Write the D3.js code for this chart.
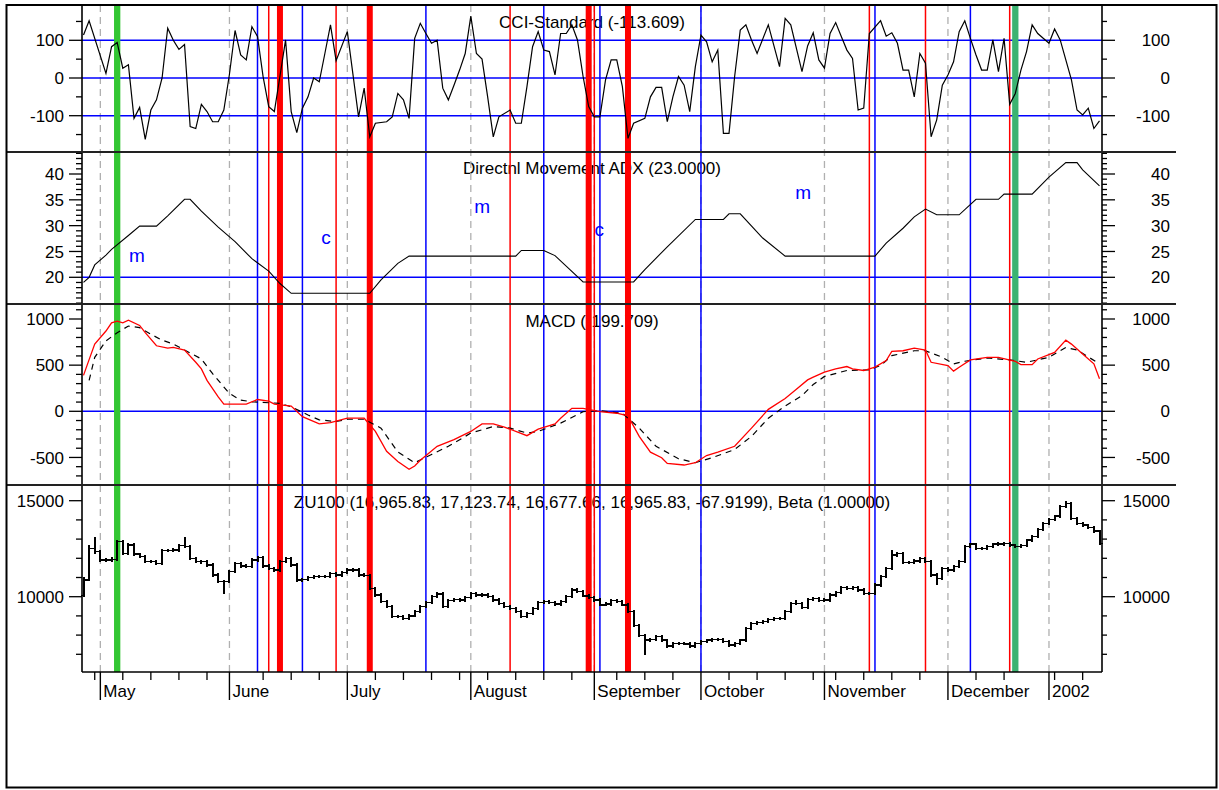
<!DOCTYPE html>
<html><head><meta charset="utf-8">
<script src="https://cdn.jsdelivr.net/npm/d3@7"></script>
<style>
body{margin:0;background:#fff}
svg{display:block}
text{font-family:"Liberation Sans",Arial,sans-serif;fill:#000}
</style>
</head><body>
<svg id="c" width="1219" height="790"></svg>
<script>
// ---------------- DATA ----------------
// x-axis: trading-day index 0..181 (26 Apr 2001 .. mid Jan 2002)
const monthLabels = ["May","June","July","August","September","October","November","December","2002"];
const monthIdx = [3,26,47,69,91,110,132,154,172];
const weekIdx = [2,7,12,17,22,32,37,42,52,57,62,67,72,77,82,87,95,100,105,115,120,125,130,134,139,144,149,159,164,173,178];

// CCI keypoints [day index, value]
const cciPts = [[0,114],[1,152],[4,12],[5,83],[6,94],[7,26],[8,35],[9,-107],[10,-78],[11,-163],[12,-85],[13,-58],[14,0],[15,132],[16,100],[17,76],[18,89],[19,-129],[20,-134],[21,-70],[22,-89],[23,-116],[24,-116],[25,-85],[26,10],[27,126],[28,61],[29,48],[30,136],[31,110],[32,3],[33,-76],[34,-89],[35,5],[36,101],[37,-89],[38,-145],[39,-80],[40,-50],[41,0],[42,-10],[43,65],[44,141],[45,46],[47,123],[49,-103],[50,-27],[51,-156],[52,-120],[54,-116],[55,-103],[56,-41],[57,-58],[58,-107],[59,105],[60,145],[61,118],[62,92],[63,100],[64,-27],[65,-58],[66,-19],[67,21],[68,65],[69,164],[70,65],[71,50],[72,-50],[73,-156],[74,-103],[76,-85],[77,-120],[78,-120],[79,-23],[80,83],[81,123],[82,74],[83,70],[84,8],[85,118],[86,118],[87,141],[88,101],[89,4],[90,-76],[91,-103],[92,-103],[93,-5],[94,48],[95,48],[96,-23],[97,-160],[98,-120],[100,-107],[101,-50],[102,-25],[103,-25],[104,-116],[105,-50],[106,4],[107,-19],[108,-89],[109,30],[110,114],[111,96],[112,43],[113,74],[114,-147],[115,-147],[116,4],[117,127],[118,141],[119,101],[120,65],[122,141],[124,30],[125,158],[126,141],[128,17],[129,85],[130,120],[131,48],[132,26],[133,118],[134,147],[135,110],[136,74],[137,52],[138,-85],[139,-80],[140,118],[142,152],[143,111],[144,120],[145,92],[146,21],[147,21],[148,-50],[149,65],[150,39],[151,-156],[152,-111],[153,-19],[154,8],[155,43],[156,123],[157,152],[158,105],[159,61],[160,21],[161,21],[162,101],[163,17],[164,105],[165,-70],[166,-41],[167,21],[168,70],[169,141],[170,118],[172,92],[173,130],[174,101],[175,48],[176,-5],[177,-85],[178,-98],[179,-80],[180,-134],[181,-114]];

// ADX keypoints
const adxPts = [[0,19],[1,20],[2,22.4],[4,24.3],[5,25.4],[8,28.1],[10,29.9],[13,29.9],[15,31.9],[18,35.1],[19,35.1],[21,32.8],[24,29.7],[27,26.9],[30,23.6],[33,21.2],[35,18.8],[37,16.9],[51,16.9],[53,19.5],[56,22.7],[58,24.1],[77,24.1],[78,25.2],[82,25.2],[84,24.2],[89,19.1],[98,19.1],[100,21.5],[104,25.9],[109,31.2],[114,31.2],[115,32.3],[117,32.3],[121,27.6],[125,24.1],[141,24.1],[143,26.6],[146,29.5],[148,31.7],[150,33.2],[152,32.1],[156,32.1],[159,35.1],[163,35.1],[164,36.1],[169,36.1],[172,39.4],[175,42.2],[177,42.2],[178,40.8],[181,37.7]];

// MACD line (red) and signal (dashed)
const macdPts = [[0,389],[1,560],[2,728],[4,870],[5,959],[6,977],[7,959],[8,988],[10,930],[11,852],[13,710],[15,685],[16,692],[18,664],[20,531],[21,460],[22,335],[24,156],[25,78],[29,78],[31,128],[33,110],[34,78],[37,57],[39,-58],[42,-136],[44,-122],[47,-75],[50,-75],[52,-218],[54,-433],[56,-545],[58,-628],[59,-593],[60,-530],[63,-379],[66,-307],[69,-218],[71,-136],[73,-136],[75,-171],[79,-264],[81,-193],[84,-136],[85,-75],[87,32],[89,32],[92,-4],[95,-21],[97,-50],[99,-272],[101,-443],[103,-503],[104,-564],[107,-582],[109,-557],[111,-479],[113,-443],[116,-379],[119,-182],[122,21],[125,139],[127,240],[129,340],[130,370],[132,424],[134,460],[136,485],[137,460],[139,442],[141,478],[143,549],[144,649],[146,656],[148,685],[150,664],[151,531],[154,496],[155,435],[156,478],[158,557],[161,585],[163,585],[166,542],[167,506],[169,506],[170,567],[173,638],[175,771],[176,728],[178,621],[180,514],[181,353]];
const signalPts = [[1,335],[2,585],[4,763],[6,852],[8,924],[10,906],[12,835],[14,771],[16,728],[18,664],[21,567],[23,407],[26,193],[28,121],[30,103],[35,86],[37,49],[40,-40],[42,-93],[45,-111],[47,-86],[50,-86],[53,-182],[56,-440],[59,-557],[62,-468],[65,-379],[69,-236],[73,-165],[76,-182],[79,-236],[81,-218],[85,-128],[89,-4],[92,6],[96,-21],[99,-182],[102,-379],[106,-514],[109,-557],[112,-503],[116,-414],[119,-272],[122,-75],[125,57],[128,170],[130,290],[132,378],[136,442],[140,450],[142,496],[144,603],[148,656],[150,656],[153,585],[155,514],[157,542],[161,578],[165,557],[168,531],[172,585],[175,692],[177,664],[181,514]];

// ZU100 daily bars
const pOpen = [10050,10870,12520,12340,11910,11910,11940,12870,12260,12690,
12220,12080,11820,11820,11740,12400,12400,12430,12660,12600,
12000,11820,11820,11650,11130,10780,10780,11300,11740,11600,
11560,11910,12050,11600,11480,11390,11820,12000,11650,10870,
10900,11010,11040,11040,11040,11210,11130,11250,11390,11390,
11130,11100,10430,10090,9740,9480,8960,8960,8870,9000,
9220,9500,9690,10000,10140,9480,9800,9860,9830,9960,
10170,10090,10090,10000,9830,9650,9480,9390,9220,8960,
9130,9390,9690,9740,9690,9620,9740,10000,10350,10260,
10040,9970,9830,9570,9620,9790,9740,9570,9220,8520,
8000,7740,7780,7920,7740,7430,7570,7570,7540,7430,
7570,7660,7740,7780,7760,7660,7480,7570,7740,8350,
8610,8650,8700,8820,8870,8870,9220,9650,9650,9450,
9860,9910,9790,9830,10090,10210,10490,10430,10490,10350,
10170,10170,10610,11040,11480,12170,12260,11800,11770,11860,
12000,11820,11130,10960,11480,11390,11560,11820,12600,12740,
12520,12520,12600,12740,12740,12780,12690,12600,12660,12950,
13130,13510,13820,14030,14200,14690,14870,14080,13820,13730,
13600,13420];
const pHigh = [11040,12700,13090,12440,12010,12050,12950,12960,12780,12790,
12300,12160,11920,11900,12480,12500,12520,12740,13090,12680,
12080,11910,11900,11730,11210,10880,11380,11820,11830,11680,
11990,12130,12140,11680,11560,11900,12090,12080,11730,10990,
11090,11120,11130,11120,11290,11300,11330,11470,11480,11470,
11210,11180,10520,10170,9830,9560,9050,9040,9080,9300,
9580,9770,10090,10220,10220,9880,9940,9940,10040,10250,
10250,10180,10170,10080,9910,9730,9560,9470,9300,9210,
9470,9770,9830,9820,9770,9820,10080,10430,10440,10340,
10120,10050,9910,9700,9870,9870,9820,9650,9300,8600,
8080,7860,8000,8000,7820,7650,7650,7650,7620,7650,
7740,7820,7860,7860,7840,7740,7650,7820,8430,8690,
8730,8780,8900,8950,8950,9300,9730,9820,9730,9940,
9990,9990,9910,10170,10290,10570,10570,10570,10570,10430,
10250,10690,11120,11560,12430,12340,12340,11880,11940,12080,
12080,11900,11210,11560,11560,11640,11900,12680,12820,12820,
12600,12680,12820,12830,12860,12860,12770,12740,13030,13210,
13590,13900,14110,14280,14770,15000,14950,14160,13900,13810,
13680,13500];
const pLow = [10000,10800,12250,11820,11820,11830,11860,12180,12180,12130,
12000,11740,11740,11660,11660,12320,12330,12350,12520,11920,
11740,11720,11560,11050,10690,10120,10700,11220,11520,11480,
11480,11830,11520,11400,11310,11310,11740,11570,10790,10790,
10820,10930,10960,10950,10960,11050,11050,11170,11300,11050,
11020,10350,10000,9650,9400,8880,8870,8780,8790,8920,
9140,9420,9610,9920,9400,9400,9720,9750,9750,9880,
10010,10000,9920,9750,9570,9400,9310,9140,8880,8880,
9050,9310,9610,9610,9540,9540,9660,9920,10180,9960,
9890,9750,9490,9490,9540,9660,9490,9140,8440,7920,
6960,7660,7700,7660,7350,7350,7490,7460,7350,7350,
7490,7580,7660,7680,7580,7400,7400,7490,7660,8270,
8530,8570,8620,8740,8790,8790,9140,9570,9370,9370,
9780,9710,9710,9750,10010,10130,10350,10350,10270,10090,
10090,10090,10530,10960,11400,12090,11720,11690,11690,11780,
11740,11050,10600,10880,11310,11310,11480,11740,12520,12440,
12440,12440,12520,12660,12660,12610,12520,12520,12580,12870,
13050,13430,13740,13950,14120,14610,14000,13740,13650,13520,
13340,12700];
const pClose = [10870,12520,12340,11910,11910,11940,12870,12260,12690,12220,
12080,11820,11820,11740,12400,12400,12430,12660,12600,12000,
11820,11820,11650,11130,10780,10780,11300,11740,11600,11560,
11910,12050,11600,11480,11390,11820,12000,11650,10870,10900,
11010,11040,11040,11040,11210,11130,11250,11390,11390,11130,
11100,10430,10090,9740,9480,8960,8960,8870,9000,9220,
9500,9690,10000,10140,9480,9800,9860,9830,9960,10170,
10090,10090,10000,9830,9650,9480,9390,9220,8960,9130,
9390,9690,9740,9690,9620,9740,10000,10350,10260,10040,
9970,9830,9570,9620,9790,9740,9570,9220,8520,8000,
7740,7780,7920,7740,7430,7570,7570,7540,7430,7570,
7660,7740,7780,7760,7660,7480,7570,7740,8350,8610,
8650,8700,8820,8870,8870,9220,9650,9650,9450,9860,
9910,9790,9830,10090,10210,10490,10430,10490,10350,10170,
10170,10610,11040,11480,12170,12260,11800,11770,11860,12000,
11820,11130,10960,11480,11390,11560,11820,12600,12740,12520,
12520,12600,12740,12740,12780,12690,12600,12660,12950,13130,
13510,13820,14030,14200,14690,14870,14080,13820,13730,13600,
13420,12780];

// signal / marker lines (day index)
const blueLines = [31,39,61,82,92,110,141,158];
const redLines = [33,45,76,91,140,150,165];
const redThick = [35,51,90,97];
const greenLines = [[6,"#33c633"],[166,"#3cb371"]];

// annotations in ADX panel [text, day index, ADX value]
const annotations = [["m",9.5,23.0],["c",43.2,26.45],["m",71.0,32.5],["c",91.9,27.9],["m",128.2,35.1]];

const titles = ["CCI-Standard (-113.609)","Directnl Movement ADX (23.0000)","MACD (-199.709)","ZU100 (16,965.83, 17,123.74, 16,677.66, 16,965.83, -67.9199), Beta (1.00000)"];

// ---------------- LAYOUT ----------------
const svg = d3.select("#c");
svg.append("rect").attr("width",1219).attr("height",790).attr("fill","#fff");
const AXL = 82, AXR = 1102, TOP = 5, BOT = 672;
const x = d3.scaleLinear().domain([0,181]).range([83.5,1099.5]);

const panels = [
  {y:d3.scaleLinear().domain([-100,100]).range([115.7,40.3]), top:5, bot:152, ticks:d3.range(-150,151,50), major:[-100,0,100], refs:[-100,0,100], titleY:28},
  {y:d3.scaleLinear().domain([20,40]).range([277.3,174]), top:152, bot:304, ticks:d3.range(15,45,1), major:[20,25,30,35,40], refs:[20], titleY:174},
  {y:d3.scaleLinear().domain([0,1000]).range([411.3,319]), top:304, bot:485, ticks:d3.range(-700,1101,100), major:[-500,0,500,1000], refs:[0], titleY:327},
  {y:d3.scaleLinear().domain([10000,15000]).range([596.7,500.7]), top:485, bot:672, ticks:d3.range(7000,15001,1000), major:[10000,15000], refs:[], titleY:508}
];

// titles
panels.forEach((p,k)=>{
  svg.append("text").attr("x",(AXL+AXR)/2).attr("y",p.titleY).attr("text-anchor","middle")
    .attr("font-size",17).text(titles[k]);
});
// annotations
svg.append("g").selectAll("text").data(annotations).join("text")
  .attr("x",d=>x(d[1])).attr("y",d=>panels[1].y(d[2])).attr("text-anchor","middle")
  .attr("font-size",19).style("fill","#0000ff").text(d=>d[0]);

// dashed month grid
svg.append("g").selectAll("line").data(monthIdx).join("line")
  .attr("x1",d=>x(d)).attr("x2",d=>x(d)).attr("y1",TOP).attr("y2",BOT)
  .attr("stroke","#b0b0b0").attr("stroke-width",1.3).attr("stroke-dasharray","7,5");

// horizontal reference lines
panels.forEach(p=>{
  svg.append("g").selectAll("line").data(p.refs).join("line")
    .attr("x1",AXL).attr("x2",AXR).attr("y1",d=>p.y(d)).attr("y2",d=>p.y(d))
    .attr("stroke","#0000ff").attr("stroke-width",1.5);
});

// vertical marker lines
function vlines(data, color, w){
  svg.append("g").selectAll("line").data(data).join("line")
    .attr("x1",d=>x(d)).attr("x2",d=>x(d)).attr("y1",TOP).attr("y2",BOT)
    .attr("stroke",color).attr("stroke-width",w);
}
vlines(blueLines,"#0000ff",1.5);
vlines(redLines,"#ff0000",1.5);
vlines(redThick,"#ff0000",6);
greenLines.forEach(g=>vlines([g[0]],g[1],6.3));

// series
const mk = p => d3.line().x(d=>x(d[0])).y(d=>p.y(d[1]));
svg.append("path").attr("d",mk(panels[0])(cciPts)).attr("fill","none").attr("stroke","#000").attr("stroke-width",1.2);
svg.append("path").attr("d",mk(panels[1])(adxPts)).attr("fill","none").attr("stroke","#000").attr("stroke-width",1.1);
svg.append("path").attr("d",mk(panels[2])(signalPts)).attr("fill","none").attr("stroke","#000").attr("stroke-width",1.2).attr("stroke-dasharray","6,5");
svg.append("path").attr("d",mk(panels[2])(macdPts)).attr("fill","none").attr("stroke","#ff0000").attr("stroke-width",1.3);

// price bars
const py = panels[3].y;
const bars = svg.append("g").attr("stroke","#000").attr("stroke-width",1.2).attr("shape-rendering","crispEdges");
pClose.forEach((c,i)=>{
  const xi = Math.round(x(i));
  bars.append("line").attr("x1",xi).attr("x2",xi).attr("y1",py(pLow[i])).attr("y2",py(pHigh[i]));
  bars.append("line").attr("x1",xi-3).attr("x2",xi).attr("y1",py(pOpen[i])).attr("y2",py(pOpen[i]));
  bars.append("line").attr("x1",xi).attr("x2",xi+3).attr("y1",py(c)).attr("y2",py(c));
});

// axes
const ax = svg.append("g").attr("stroke","#000");
ax.append("line").attr("x1",AXL).attr("x2",AXL).attr("y1",TOP).attr("y2",BOT).attr("stroke-width",1.6);
ax.append("line").attr("x1",AXR).attr("x2",AXR).attr("y1",TOP).attr("y2",BOT).attr("stroke-width",1.6);
panels.forEach(p=>{
  p.ticks.forEach(t=>{
    const yy = p.y(t), maj = p.major.includes(t);
    ax.append("line").attr("x1",AXL-(maj?13:6)).attr("x2",AXL).attr("y1",yy).attr("y2",yy).attr("stroke-width",1.3);
    ax.append("line").attr("x1",AXR).attr("x2",AXR+(maj?13:5)).attr("y1",yy).attr("y2",yy).attr("stroke-width",1.3);
  });
  p.major.forEach(t=>{
    svg.append("text").attr("x",64).attr("y",p.y(t)).attr("dy","0.36em").attr("text-anchor","end").attr("font-size",17).text(String(t));
    svg.append("text").attr("x",1170).attr("y",p.y(t)).attr("dy","0.36em").attr("text-anchor","end").attr("font-size",17).text(String(t));
  });
});
// panel separators
[152,304,485].forEach(yy=>{
  ax.append("line").attr("x1",7).attr("x2",1176).attr("y1",yy).attr("y2",yy).attr("stroke","#222").attr("stroke-width",1.8);
});
// x axis
ax.append("line").attr("x1",AXL).attr("x2",AXR).attr("y1",BOT).attr("y2",BOT).attr("stroke-width",1.6);
weekIdx.forEach(i=>{
  ax.append("line").attr("x1",x(i)).attr("x2",x(i)).attr("y1",BOT).attr("y2",BOT+8).attr("stroke-width",1.3);
});
monthIdx.forEach((i,k)=>{
  ax.append("line").attr("x1",x(i)).attr("x2",x(i)).attr("y1",BOT).attr("y2",BOT+28).attr("stroke-width",1.4);
  svg.append("text").attr("x",x(i)+3).attr("y",697).attr("font-size",17).text(monthLabels[k]);
});
// outer border
svg.append("rect").attr("x",6.5).attr("y",5).attr("width",1210).attr("height",782.5)
  .attr("fill","none").attr("stroke","#000").attr("stroke-width",2);
</script>
</body></html>
